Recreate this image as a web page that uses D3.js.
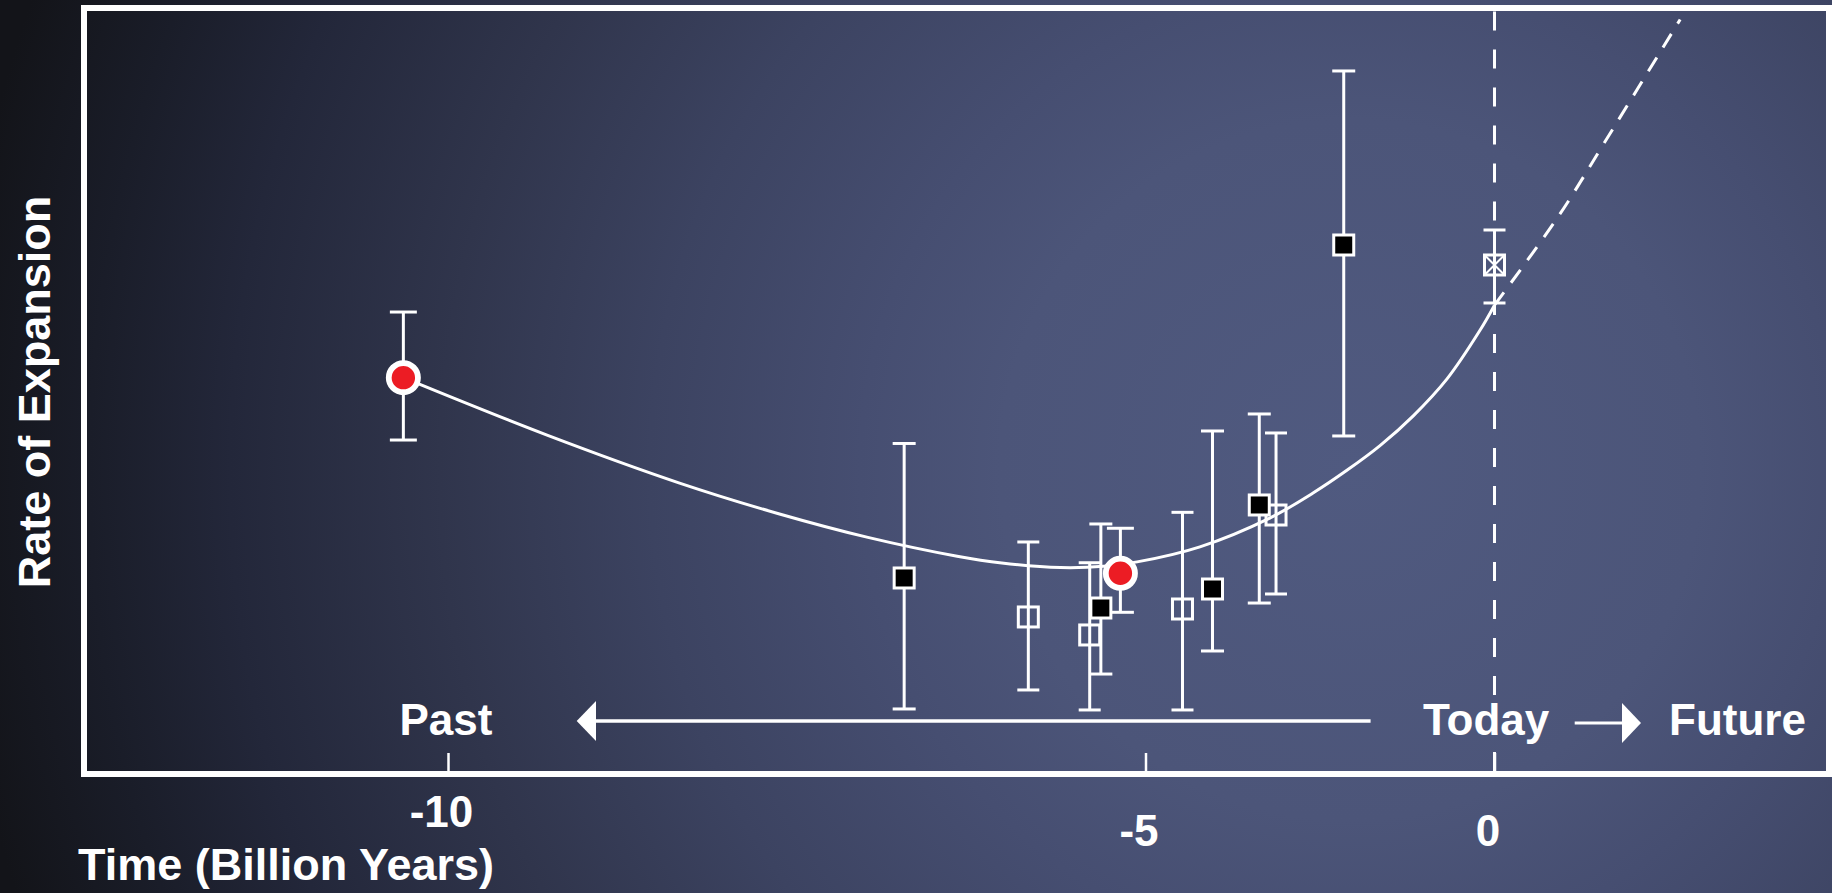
<!DOCTYPE html>
<html>
<head>
<meta charset="utf-8">
<script src="https://cdn.jsdelivr.net/npm/d3@7"></script>
<style>
  html, body { margin: 0; padding: 0; background: #14161d; overflow: hidden; }
  svg { display: block; }
  text { font-family: "Liberation Sans", Arial, Helvetica, sans-serif; font-weight: bold; fill: #ffffff; }
</style>
</head>
<body>
<svg id="chart" width="1832" height="893"></svg>
<script>
// ---- data -------------------------------------------------------------
// Time in billions of years (0 = today), rate of expansion in arbitrary units.
const timeTicks = [-10, -5, 0];

// red circles
const circleTime = [-10.32, -5.18];
const circleRate = [51.74, 26.20];
const circleLow  = [43.60, 21.11];
const circleHigh = [60.31, 32.08];

// filled squares
const filledTime = [-6.73, -5.32, -4.04, -3.37, -2.16];
const filledRate = [25.59, 21.67, 24.15, 35.12, 69.06];
const filledLow  = [8.49, 13.05, 16.06, 22.32, 44.13];
const filledHigh = [43.15, 32.64, 44.78, 47.00, 91.78];

// open squares
const openTime = [-5.84, -5.40, -4.47, -3.13];
const openRate = [20.50, 18.15, 21.54, 33.81];
const openLow  = [10.97, 8.36, 8.36, 23.50];
const openHigh = [30.29, 27.58, 34.16, 44.52];

// present-day value (crossed square)
const todayTime = [0];
const todayRate = [66.45];
const todayLow  = [61.49];
const todayHigh = [71.02];

// model curve: past (solid) and projected future (dashed)
const modelTime = [-10.32, -9.29, -8.34, -7.63, -6.99, -6.35, -6.03, -5.61, -5.30, -5.06, -4.22, -3.22, -2.60, -2.12, -1.64, -1.16, -0.68, -0.21, 0];
const modelRate = [51.74, 44.24, 37.98, 33.98, 30.89, 28.43, 27.55, 26.95, 27.11, 27.69, 29.66, 33.41, 36.68, 39.61, 42.87, 46.79, 51.58, 57.89, 61.20];
const futureTime = [0, 0.93, 1.58, 2.66];
const futureRate = [61.20, 73.0, 82.5, 98.5];

// ---- layout -----------------------------------------------------------
const W = 1832, H = 893;
const frame = { left: 84, right: 1829, top: 8, bottom: 774, stroke: 6 };

const svg = d3.select("#chart");

// background glow
const defs = svg.append("defs");
const grad = defs.append("radialGradient")
  .attr("id", "bg")
  .attr("gradientUnits", "userSpaceOnUse")
  .attr("cx", 1350).attr("cy", 470).attr("r", 1400);
[
  [0.00, "#505a80"],
  [0.25, "#4c5579"],
  [0.35, "#464e71"],
  [0.50, "#3c4361"],
  [0.65, "#30354c"],
  [0.80, "#23273a"],
  [0.90, "#1a1d29"],
  [1.00, "#131419"]
].forEach(([o, c]) => grad.append("stop").attr("offset", o).attr("stop-color", c));

svg.append("rect").attr("width", W).attr("height", H).attr("fill", "url(#bg)");

// scales: time axis is piecewise (older epochs compressed differently)
const x = d3.scaleLinear().domain(timeTicks).range([448, 1145.5, 1494.5]);
const y = d3.scaleLinear().domain([0, 100]).range([frame.bottom, frame.top]);

const zip = (t, v, lo, hi) => t.map((d, i) => ({ t: d, v: v[i], lo: lo[i], hi: hi[i] }));
const circles = zip(circleTime, circleRate, circleLow, circleHigh);
const filled  = zip(filledTime, filledRate, filledLow, filledHigh);
const open    = zip(openTime, openRate, openLow, openHigh);
const today   = zip(todayTime, todayRate, todayLow, todayHigh);

// ---- "today" dashed marker line (broken around the present-day bar) ----
const inner = frame.stroke / 2;
const todayG = svg.append("g")
  .attr("stroke", "#fff").attr("stroke-width", 3).attr("stroke-dasharray", "19,19").attr("fill", "none");
todayG.append("line")
  .attr("x1", x(0)).attr("x2", x(0))
  .attr("y1", frame.top + inner + 0.5).attr("y2", y(todayHigh[0]) - 2);
todayG.append("line")
  .attr("x1", x(0)).attr("x2", x(0))
  .attr("y1", frame.bottom - inner).attr("y2", y(todayLow[0]) + 2);

// ---- model curve ------------------------------------------------------
const line = d3.line().x(d => x(d[0])).y(d => y(d[1])).curve(d3.curveCatmullRom.alpha(0.5));

svg.append("path")
  .datum(modelTime.map((t, i) => [t, modelRate[i]]))
  .attr("d", line)
  .attr("fill", "none").attr("stroke", "#fff").attr("stroke-width", 3);

svg.append("path")
  .datum(futureTime.map((t, i) => [t, futureRate[i]]))
  .attr("d", line)
  .attr("fill", "none").attr("stroke", "#fff").attr("stroke-width", 3)
  .attr("stroke-dasharray", "16,12");

// ---- error bars -------------------------------------------------------
function errorBars(data, capHalf) {
  const g = svg.append("g").attr("stroke", "#fff").attr("stroke-width", 3).attr("fill", "none");
  const e = g.selectAll("g").data(data).join("g");
  e.append("line").attr("x1", d => x(d.t)).attr("x2", d => x(d.t)).attr("y1", d => y(d.hi)).attr("y2", d => y(d.lo));
  e.append("line").attr("x1", d => x(d.t) - capHalf).attr("x2", d => x(d.t) + capHalf).attr("y1", d => y(d.hi)).attr("y2", d => y(d.hi));
  e.append("line").attr("x1", d => x(d.t) - capHalf).attr("x2", d => x(d.t) + capHalf).attr("y1", d => y(d.lo)).attr("y2", d => y(d.lo));
}
errorBars(open, 11);
errorBars(today, 11);
errorBars(filled, 11.5);
errorBars(circles, 13.5);

// ---- markers ----------------------------------------------------------
const side = 20;
svg.append("g").selectAll("rect").data(open).join("rect")
  .attr("x", d => x(d.t) - side / 2).attr("y", d => y(d.v) - side / 2)
  .attr("width", side).attr("height", side)
  .attr("fill", "none").attr("stroke", "#fff").attr("stroke-width", 3);

const tg = svg.append("g").selectAll("g").data(today).join("g")
  .attr("transform", d => `translate(${x(d.t)},${y(d.v)})`);
tg.append("rect").attr("x", -side / 2).attr("y", -side / 2).attr("width", side).attr("height", side)
  .attr("fill", "none").attr("stroke", "#fff").attr("stroke-width", 3);
tg.append("path").attr("d", `M${-side / 2},${-side / 2}L${side / 2},${side / 2}M${side / 2},${-side / 2}L${-side / 2},${side / 2}`)
  .attr("stroke", "#fff").attr("stroke-width", 2);

svg.append("g").selectAll("rect").data(filled).join("rect")
  .attr("x", d => x(d.t) - side / 2).attr("y", d => y(d.v) - side / 2)
  .attr("width", side).attr("height", side)
  .attr("fill", "#000").attr("stroke", "#fff").attr("stroke-width", 3);

svg.append("g").selectAll("circle").data(circles).join("circle")
  .attr("cx", d => x(d.t)).attr("cy", d => y(d.v)).attr("r", 14.6)
  .attr("fill", "#ec1c24").attr("stroke", "#fff").attr("stroke-width", 5.8);

// ---- frame & axis -----------------------------------------------------
svg.append("rect")
  .attr("x", frame.left).attr("y", frame.top)
  .attr("width", frame.right - frame.left).attr("height", frame.bottom - frame.top)
  .attr("fill", "none").attr("stroke", "#fff").attr("stroke-width", frame.stroke);

const axis = d3.axisBottom(x)
  .tickValues(timeTicks)
  .tickSizeInner(-21).tickSizeOuter(0)
  .tickFormat(d => String(d));

const ax = svg.append("g").attr("transform", `translate(0,${frame.bottom})`).call(axis);
ax.select(".domain").remove();
ax.selectAll(".tick line").attr("stroke", "#fff").attr("stroke-width", 2.5);
ax.selectAll(".tick text")
  .attr("fill", "#fff")
  .attr("font-family", null)
  .style("font-size", "44px")
  .attr("dy", null)
  .attr("x", -7)
  .attr("y", d => d === -10 ? 53 : 71.5);

// axis titles
svg.append("text")
  .attr("x", 78).attr("y", 880)
  .style("font-size", "45px")
  .text("Time (Billion Years)");

svg.append("text")
  .attr("transform", "translate(50,392) rotate(-90)")
  .attr("text-anchor", "middle")
  .style("font-size", "45px")
  .text("Rate of Expansion");

// ---- past / today / future annotations ---------------------------------
const annY = 735;
svg.append("text").attr("x", 446).attr("y", annY).attr("text-anchor", "middle").style("font-size", "44px").text("Past");
svg.append("text").attr("x", 1423).attr("y", annY).style("font-size", "44px").text("Today");
svg.append("text").attr("x", 1669).attr("y", annY).style("font-size", "44px").text("Future");

// arrow pointing to the past
svg.append("line").attr("x1", 594).attr("x2", 1370.6).attr("y1", 721).attr("y2", 721)
  .attr("stroke", "#fff").attr("stroke-width", 3.5);
svg.append("path").attr("d", "M576.7,721L596,701L596,741Z").attr("fill", "#fff");

// arrow pointing to the future
svg.append("line").attr("x1", 1574.7).attr("x2", 1624).attr("y1", 723).attr("y2", 723)
  .attr("stroke", "#fff").attr("stroke-width", 3);
svg.append("path").attr("d", "M1641,723L1622,703L1622,743Z").attr("fill", "#fff");
</script>
</body>
</html>
